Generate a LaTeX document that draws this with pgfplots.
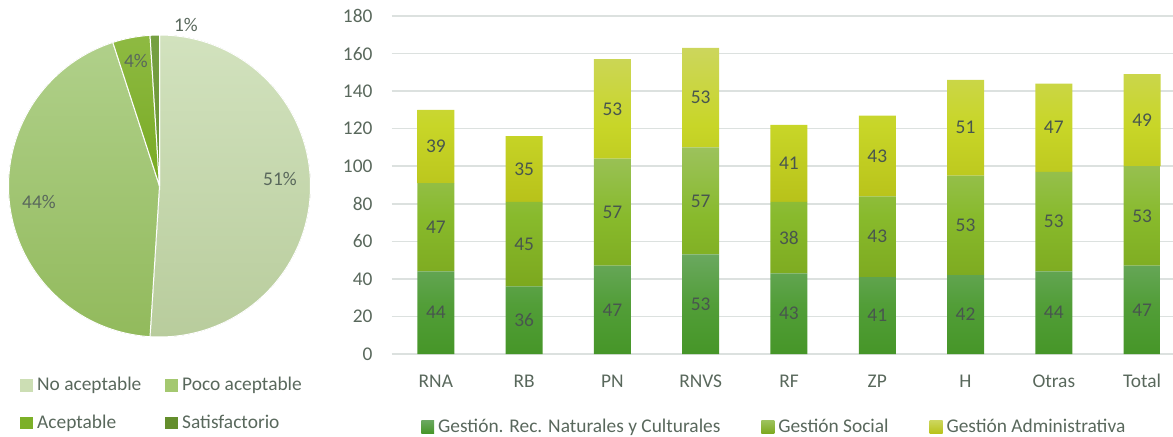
\documentclass[border=0pt]{standalone}
\usepackage{pgfplots}
\pgfplotsset{compat=1.18}
\usepackage{pgfplotstable}
\usepackage{fontspec}
\setmainfont{Carlito}

\definecolor{txt}{RGB}{89,104,92}
\definecolor{lbl}{RGB}{72,86,78}
\definecolor{gridc}{RGB}{220,225,223}
\definecolor{rncT}{RGB}{106,168,95}
\definecolor{rncM}{RGB}{82,158,56}
\definecolor{rncB}{RGB}{70,150,40}
\definecolor{socT}{RGB}{156,194,92}
\definecolor{socM}{RGB}{136,186,44}
\definecolor{socB}{RGB}{124,168,30}
\definecolor{admT}{RGB}{204,214,92}
\definecolor{admM}{RGB}{200,214,40}
\definecolor{admB}{RGB}{184,194,26}
\definecolor{pAT}{RGB}{210,226,190}
\definecolor{pAB}{RGB}{184,204,156}
\definecolor{pBT}{RGB}{176,208,138}
\definecolor{pBB}{RGB}{146,186,92}
\definecolor{pCT}{RGB}{142,186,66}
\definecolor{pCB}{RGB}{120,170,34}
\definecolor{pDT}{RGB}{118,160,66}
\definecolor{pDB}{RGB}{104,146,50}
\definecolor{lgA}{RGB}{204,222,180}
\definecolor{lgB}{RGB}{164,200,112}
\definecolor{lgC}{RGB}{124,176,40}
\definecolor{lgD}{RGB}{100,142,44}

\pgfplotstableread{
x cat rnc soc adm
0 RNA 44 47 39
1 RB 36 45 35
2 PN 47 57 53
3 RNVS 53 57 53
4 RF 43 38 41
5 ZP 41 43 43
6 H 42 53 51
7 Otras 44 53 47
8 Total 47 53 49
}\bardata

% pie percentages
\def\pA{51}\def\pB{44}\def\pC{4}\def\pD{1}
\pgfmathsetmacro{\aA}{90}
\pgfmathsetmacro{\aB}{\aA-3.6*\pA}
\pgfmathsetmacro{\aC}{\aB-3.6*\pB}
\pgfmathsetmacro{\aD}{\aC-3.6*\pC}
\pgfmathsetmacro{\aE}{\aD-3.6*\pD}

\newcommand\sqimg[1]{\addlegendimage{legend image code/.code={\fill[draw=none,#1] (0pt,-3.2pt) rectangle (6.4pt,3.2pt);}}}

\pgfplotsset{
  /pgf/number format/assume math mode=true,
  baraxis/.style={
    at={(195.85pt,41pt)}, anchor=south west,
    scale only axis, width=390.65pt, height=169pt,
    xmin=-0.5, xmax=8.35, ymin=0, ymax=180,
  },
}

\begin{document}
\fontsize{9.7}{11.6}\selectfont
\begin{tikzpicture}
\useasboundingbox (0,0) rectangle (586.5pt,218pt);

% ---------- pie ----------
\begin{axis}[
  at={(79.75pt,125pt)}, anchor=center,
  x=1pt, y=1pt, xmin=-76, xmax=76, ymin=-76, ymax=76,
  hide axis, clip=false,
  legend columns=2,
  legend cell align=left,
  legend style={draw=none, fill=none, inner sep=0pt, at={(0.041,-0.122)}, anchor=north west,
     nodes={inner sep=1pt, inner xsep=2pt, text=txt}, row sep=8.5pt,
     /tikz/every even column/.append style={column sep=10pt}},
]
\sqimg{lgA}\addlegendentry{No aceptable}
\sqimg{lgB}\addlegendentry{Poco aceptable}
\sqimg{lgC}\addlegendentry{Aceptable}
\sqimg{lgD}\addlegendentry{Satisfactorio}
\fill[top color=pAT, bottom color=pAB, draw=white, line width=0.5pt] (axis cs:0,0) -- ++(\aA:75.5pt) arc[start angle=\aA, end angle=\aB, radius=75.5pt] -- cycle;
\fill[top color=pBT, bottom color=pBB, draw=white, line width=0.5pt] (axis cs:0,0) -- ++(\aB:75.5pt) arc[start angle=\aB, end angle=\aC, radius=75.5pt] -- cycle;
\fill[top color=pCT, bottom color=pCB, draw=white, line width=0.5pt] (axis cs:0,0) -- ++(\aC:75.5pt) arc[start angle=\aC, end angle=\aD, radius=75.5pt] -- cycle;
\fill[top color=pDT, bottom color=pDB, draw=white, line width=0.5pt] (axis cs:0,0) -- ++(\aD:75.5pt) arc[start angle=\aD, end angle=\aE, radius=75.5pt] -- cycle;
\node[text=txt] at (axis cs:60.25,3.5) {51\%};
\node[text=txt] at (axis cs:-60.25,-8) {44\%};
\node[text=txt] at (axis cs:-11.75,62.5) {4\%};
\node[text=txt] at (axis cs:13.25,80.5) {1\%};
\end{axis}

% ---------- bars ----------
\begin{axis}[
  baraxis,
  ybar stacked, bar width=18.5pt,
  axis line style={draw=none},
  major tick length=0pt,
  ytick={0,20,...,180},
  xtick={0,...,8},
  xticklabels from table={\bardata}{cat},
  ymajorgrids, grid style={line width=0.8pt, gridc},
  tick label style={text=txt},
  yticklabel style={xshift=-6.2pt},
  xticklabel style={yshift=-7pt, text height=6.4pt},
  legend columns=3,
  legend cell align=left,
  legend style={draw=none, fill=none, inner sep=0pt, at={(0.0375,-0.216)}, anchor=west,
     nodes={inner sep=1pt, inner xsep=2pt, text=txt},
     /tikz/every even column/.append style={column sep=18.5pt}},
]
\addplot[forget plot, draw=none, top color=rncT, bottom color=rncB, middle color=rncM] table[x=x,y=rnc]{\bardata};
\addplot[forget plot, draw=none, top color=socT, bottom color=socB, middle color=socM] table[x=x,y=soc]{\bardata};
\addplot[forget plot, draw=none, top color=admT, bottom color=admB, middle color=admM] table[x=x,y=adm]{\bardata};
\sqimg{top color=rncT, bottom color=rncB}\addlegendentry{Gestión. Rec. Naturales y Culturales}
\sqimg{top color=socT, bottom color=socB}\addlegendentry{Gestión Social}
\sqimg{top color=admT, bottom color=admB}\addlegendentry{Gestión Administrativa}
\end{axis}

% ---------- bar labels ----------
\begin{axis}[
  baraxis, hide axis,
  nodes near coords, point meta=explicit,
  nodes near coords align=center,
  every node near coord/.append style={text=lbl, anchor=center},
]
\addplot[only marks, mark=none] table[x=x, y expr=\thisrow{rnc}/2, meta=rnc]{\bardata};
\addplot[only marks, mark=none] table[x=x, y expr=\thisrow{rnc}+\thisrow{soc}/2, meta=soc]{\bardata};
\addplot[only marks, mark=none] table[x=x, y expr=\thisrow{rnc}+\thisrow{soc}+\thisrow{adm}/2, meta=adm]{\bardata};
\end{axis}
\end{tikzpicture}
\end{document}
